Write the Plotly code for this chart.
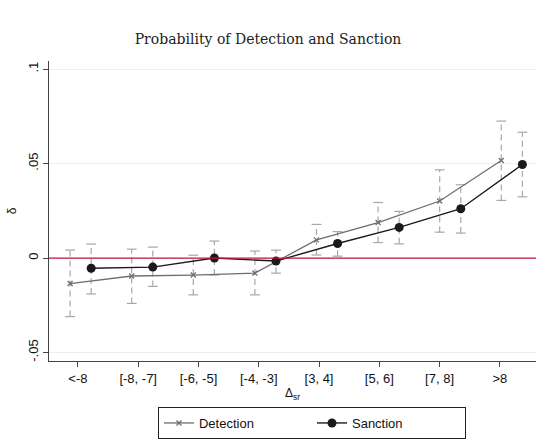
import plotly.graph_objects as go

categories = ["<-8", "[-8, -7]", "[-6, -5]", "[-4, -3]", "[3, 4]", "[5, 6]", "[7, 8]", ">8"]
det = [-0.0135, -0.0095, -0.009, -0.008, 0.0096, 0.0188, 0.0302, 0.0516]
det_lo = [-0.031, -0.024, -0.0195, -0.0195, 0.0016, 0.0082, 0.0137, 0.0305]
det_hi = [0.0042, 0.0047, 0.0015, 0.0037, 0.0178, 0.0294, 0.0467, 0.0725]
san = [-0.0054, -0.0048, 0.0, -0.0016, 0.0077, 0.0162, 0.0261, 0.0495]
san_lo = [-0.019, -0.015, -0.009, -0.008, 0.001, 0.0075, 0.0132, 0.0324]
san_hi = [0.0074, 0.0058, 0.009, 0.0042, 0.014, 0.0247, 0.0388, 0.0666]

idx = list(range(len(categories)))
xd = [i - 0.13 + 0.022 * i for i in idx]
xs = [i + 0.22 + 0.022 * i for i in idx]

fig = go.Figure()
ci_col = "#a8a8a8"
for xx, lo, hi in [(xd, det_lo, det_hi), (xs, san_lo, san_hi)]:
    vx, vy = [], []
    for a, l, h in zip(xx, lo, hi):
        vx += [a, a, None]
        vy += [l, h, None]
    fig.add_trace(go.Scatter(x=vx, y=vy, mode="lines", line=dict(color=ci_col, width=1.2, dash="6px,4px"),
                             showlegend=False, hoverinfo="skip", cliponaxis=False))
    fig.add_trace(go.Scatter(x=xx + xx, y=lo + hi, mode="markers", cliponaxis=False,
                             marker=dict(symbol="line-ew", size=7, line=dict(color=ci_col, width=1.2)),
                             showlegend=False, hoverinfo="skip"))

fig.add_hline(y=0, line=dict(color="#c8103e", width=1.3))

fig.add_trace(go.Scatter(x=xd, y=det, mode="lines+markers", name="Detection", cliponaxis=False,
                         line=dict(color="#6e6e6e", width=1.3),
                         marker=dict(symbol="x-thin", size=5, line=dict(color="#6e6e6e", width=1.3))))
fig.add_trace(go.Scatter(x=xs, y=san, mode="lines+markers", name="Sanction", cliponaxis=False,
                         line=dict(color="#1a1a1a", width=1.4),
                         marker=dict(symbol="circle", size=9, color="#1a1a1a")))

fig.update_layout(
    width=536, height=439, plot_bgcolor="white", paper_bgcolor="white",
    margin=dict(l=49, r=0, t=61, b=75),
    title=dict(text="Probability of Detection and Sanction", x=0.5, xanchor="center", y=0.91, yanchor="middle",
               font=dict(family="DejaVu Serif, serif", size=14, color="#222")),
    font=dict(family="Liberation Sans, Arial", size=13, color="#111"),
    legend=dict(orientation="h", x=0.54, xanchor="center", y=-0.155, yanchor="top",
                bordercolor="#222", borderwidth=1, font=dict(size=13), entrywidth=108),
    xaxis=dict(range=[-0.48, 7.6], tickmode="array", tickvals=idx, ticktext=categories, automargin=False,
               showline=True, linecolor="#444", ticks="outside", ticklen=5, tickcolor="#444",
               showgrid=False, zeroline=False,
               title=dict(text="Δ<sub>sr</sub>", standoff=4, font=dict(size=12))),
    yaxis=dict(range=[-0.0545, 0.1043], tickvals=[-0.05, 0, 0.05, 0.1], ticktext=["-.05", "0", ".05", ".1"],
               tickangle=-90, showline=True, linecolor="#444", ticks="outside", ticklen=5, tickcolor="#444",
               showgrid=True, gridcolor="#e8f0f0", zeroline=False, automargin=False,
               title=dict(text="δ", standoff=6, font=dict(size=12))),
)
fig.write_html("out.html", config={"displayModeBar": False},
               post_script="document.body.style.margin='0';document.body.style.overflow='hidden';")
